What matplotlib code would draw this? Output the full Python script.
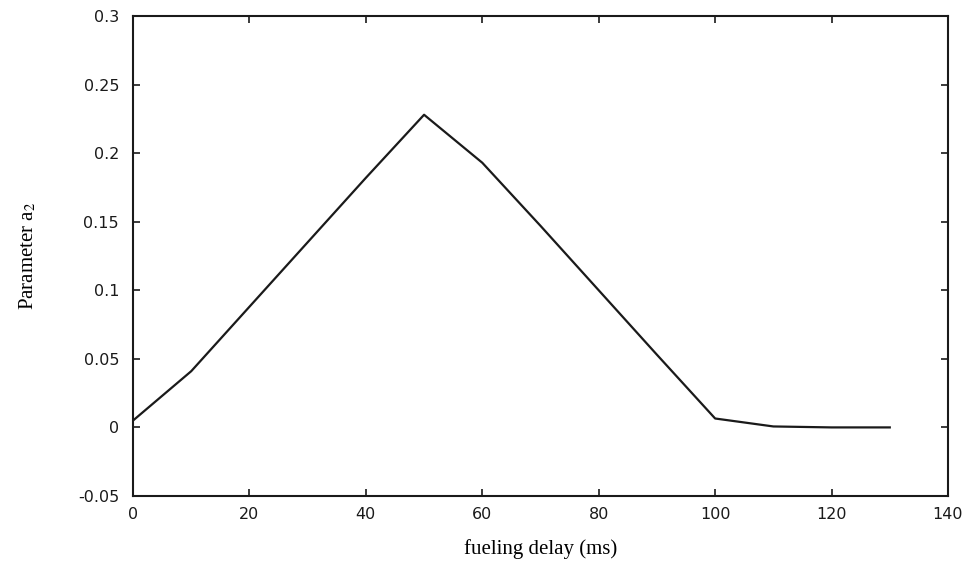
import matplotlib
matplotlib.use("Agg")
import matplotlib.pyplot as plt

# fueling delay (ms) vs fitted parameter a2
delay_ms = [0, 10, 20, 30, 40, 50, 60, 70, 80, 90, 100, 110, 120, 130]
param_a2 = [0.005, 0.041, 0.088, 0.135, 0.182, 0.228, 0.193, 0.147,
            0.100, 0.053, 0.0065, 0.0007, 0.0, 0.0]

x_ticks = [0, 20, 40, 60, 80, 100, 120, 140]
y_ticks = [-0.05, 0, 0.05, 0.1, 0.15, 0.2, 0.25, 0.3]
y_tick_labels = ["-0.05", "0", "0.05", "0.1", "0.15", "0.2", "0.25", "0.3"]

plt.rcParams['mathtext.fontset'] = 'stix'

fig = plt.figure(figsize=(9.73, 5.68), dpi=100)
ax = fig.add_axes([0.1367, 0.1268, 0.8376, 0.845])

ax.plot(delay_ms, param_a2, color='#1a1a1a', linewidth=1.6)

ax.set_xlim(0, 140)
ax.set_ylim(-0.05, 0.3)
ax.set_xticks(x_ticks)
ax.set_yticks(y_ticks)
ax.set_yticklabels(y_tick_labels)
ax.tick_params(direction='in', length=5, width=1.2, top=True, right=True,
               labelsize=11.5, colors='#1a1a1a')
ax.tick_params(axis='y', pad=10)
ax.tick_params(axis='x', pad=8)
for lbl in ax.get_xticklabels() + ax.get_yticklabels():
    lbl.set_fontfamily('DejaVu Sans')

for side in ax.spines.values():
    side.set_linewidth(1.5)
    side.set_color('#1a1a1a')

ax.set_xlabel('fueling delay (ms)', fontfamily='Liberation Serif', fontsize=15, labelpad=12)
ax.set_ylabel('Parameter a$_2$', fontfamily='Liberation Serif', fontsize=15, labelpad=20)
ax.yaxis.set_label_coords(-0.116, 0.5)

plt.savefig('out.png', dpi=100)
